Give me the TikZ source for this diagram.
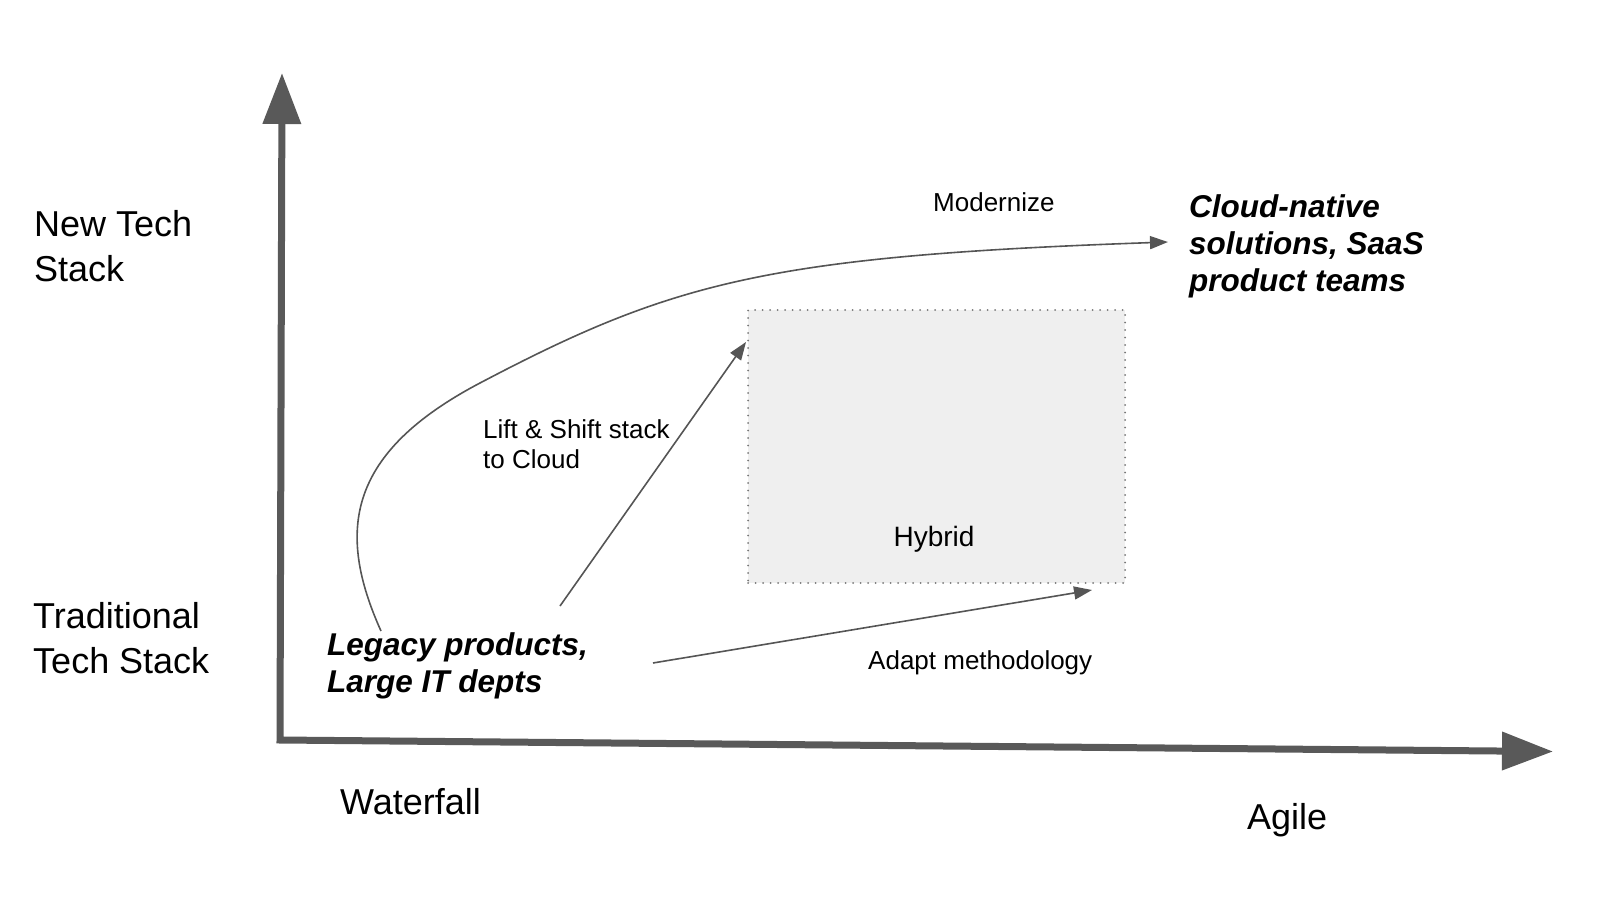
\documentclass[tikz,border=0pt]{standalone}
\usepackage{fontspec}
\setmainfont{Liberation Sans}
\usetikzlibrary{arrows.meta, positioning, calc}

\definecolor{axisgray}{HTML}{595959}
\definecolor{linegray}{HTML}{555555}
\definecolor{boxfill}{HTML}{EFEFEF}
\definecolor{dotgray}{HTML}{777777}

\tikzset{
  axislabel/.style={font=\fontsize{36}{45}\selectfont, inner sep=0pt, anchor=base west, align=left},
  smalllabel/.style={font=\fontsize{26}{30}\selectfont, inner sep=0pt, anchor=base west, align=left},
  grouplabel/.style={font=\fontsize{31.5}{37}\selectfont\bfseries\itshape, inner sep=0pt, anchor=base west, align=left},
  axisline/.style={color=axisgray, line width=7pt, >={Triangle[length=51pt,width=37pt]}, <->},
  thinarrow/.style={color=linegray, line width=1.6pt, -{Triangle[length=18pt,width=13pt]}},
  hybridbox/.style={fill=boxfill, draw=dotgray, line width=2pt, line cap=round, dash pattern=on 0pt off 7.5pt, inner sep=0pt},
}

\begin{document}
\begin{tikzpicture}[x=1pt, y=-1pt]
\useasboundingbox (0,0) rectangle (1600,923);

% hybrid area
\node[hybridbox, anchor=north west, minimum width=377pt, minimum height=273pt] (hybridarea) at (747,309) {};
\node[font=\fontsize{28}{32}\selectfont, inner sep=0pt, anchor=base] (hybrid) at (934,546) {Hybrid};

% axes
\coordinate (origin) at (280,740);
\coordinate (ytip) at (282,73);
\coordinate (xtip) at (1553,751.5);
\draw[axisline] (ytip) -- (origin) -- (xtip);

% axis labels (base = last line)
\node[axislabel] (newstack) at (34,281) {New Tech\\Stack};
\node[axislabel] (tradstack) at (33,673) {Traditional\\Tech Stack};
\node[axislabel] (waterfall) at (340,814) {Waterfall};
\node[axislabel] (agile) at (1247,829) {Agile};

% groups
\node[grouplabel] (legacy) at (327,692) {Legacy products,\\Large IT depts};
\node[grouplabel] (cloud) at (1189,291) {Cloud-native\\solutions, SaaS\\product teams};

% paths
\node[smalllabel] (modernize) at (933,211) {Modernize};
\node[smalllabel] (liftshift) at (483,468) {Lift \& Shift stack\\to Cloud};
\node[smalllabel] (adapt) at (868,669) {Adapt methodology};

\coordinate (modstart) at (381,631);
\coordinate (modtip) at (1168,242);
\coordinate (liftstart) at (560,606);
\coordinate (lifttip) at (746,342);
\coordinate (adaptstart) at (653,663);
\coordinate (adapttip) at (1092,590);

\draw[thinarrow] (modstart) .. controls (336,531) and (347,453) .. (480,383)
                            .. controls (672,282) and (768,256) .. (modtip);
\draw[thinarrow] (liftstart) -- (lifttip);
\draw[thinarrow] (adaptstart) -- (adapttip);
\end{tikzpicture}
\end{document}
